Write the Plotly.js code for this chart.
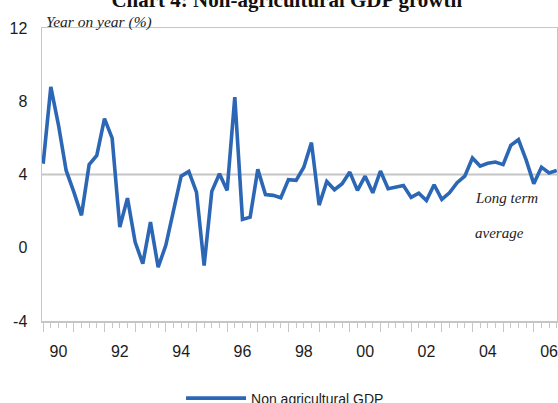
<!DOCTYPE html>
<html>
<head>
<meta charset="utf-8">
<script src="https://cdn.plot.ly/plotly-3.0.1.min.js"></script>
<style>
  html, body { margin: 0; padding: 0; background: #ffffff; }
  #chart { width: 558px; height: 403px; }
</style>
</head>
<body>
<div id="chart"></div>
<script>
// ---- Data (quarterly, year-on-year %, 1990Q1 .. 2006Q4) ----
const startYear = 1990;
const endYear = 2006;
const gdpGrowth = [
  4.59, 8.78, 6.70, 4.22,   // 1990
  3.05, 1.77, 4.54, 5.04,   // 1991
  7.05, 5.99, 1.13, 2.71,   // 1992
  0.31, -0.87, 1.40, -1.06, // 1993
  0.13, 2.00, 3.91, 4.17,   // 1994
  3.04, -0.97, 3.08, 4.04,  // 1995
  3.13, 8.23, 1.55, 1.67,   // 1996
  4.28, 2.90, 2.86, 2.73,   // 1997
  3.72, 3.68, 4.40, 5.74,   // 1998
  2.33, 3.62, 3.17, 3.50,   // 1999
  4.13, 3.13, 3.91, 3.00,   // 2000
  4.19, 3.22, 3.30, 3.40,   // 2001
  2.75, 2.98, 2.58, 3.44,   // 2002
  2.64, 3.00, 3.55, 3.91,   // 2003
  4.90, 4.46, 4.61, 4.68,   // 2004
  4.54, 5.59, 5.90, 4.80,   // 2005
  3.50, 4.40, 4.08, 4.22    // 2006
];
const yearLabels = ['90', '92', '94', '96', '98', '00', '02', '04', '06'];
const yTickVals = [-4, 0, 4, 8, 12];
const yTickText = ['-4', '0', '4', '8', '12'];
const longTermAverage = 4.0;
const seriesName = 'Non agricultural GDP';

// ---- Derived positions (quarter index) ----
const xIdx = gdpGrowth.map((v, i) => i);
const yearStarts = [];
for (let y = startYear; y <= endYear; y++) yearStarts.push((y - startYear) * 4);
const labelPos = yearLabels.map((lab, k) => k * 8 + 2);
const xRange = [-0.15, gdpGrowth.length - 1 + 0.03];

const gray = '#c6c6c6';
const blue = '#2b67b4';
const textCol = '#1c1c1c';

const traces = [
  {
    x: xIdx,
    y: gdpGrowth,
    type: 'scatter',
    mode: 'lines',
    name: seriesName,
    line: { color: blue, width: 3.6 },
    xaxis: 'x',
    yaxis: 'y'
  },
  {
    x: [0],
    y: [null],
    type: 'scatter',
    mode: 'lines',
    showlegend: false,
    hoverinfo: 'skip',
    xaxis: 'x2',
    yaxis: 'y'
  }
];

const layout = {
  width: 558,
  height: 403,
  margin: { l: 42, r: 1, t: 28, b: 82, autoexpand: false },
  paper_bgcolor: '#ffffff',
  plot_bgcolor: '#ffffff',
  font: { family: 'Liberation Sans, Arial, sans-serif', color: textCol, size: 16 },
  title: {
    text: 'Chart 4: Non-agricultural GDP growth',
    font: { family: 'Liberation Serif, serif', size: 21, color: '#111111', weight: 'bold' },
    xref: 'container',
    x: 0.514,
    xanchor: 'center',
    yref: 'container',
    y: 1,
    yanchor: 'middle'
  },
  showlegend: true,
  legend: {
    orientation: 'h',
    xref: 'paper',
    x: 0.27,
    xanchor: 'left',
    yref: 'paper',
    y: -0.21,
    yanchor: 'top',
    itemwidth: 60,
    font: { family: 'Liberation Sans, Arial, sans-serif', size: 14, color: textCol },
    bgcolor: 'rgba(0,0,0,0)'
  },
  xaxis: {
    range: xRange,
    tickmode: 'array',
    tickvals: labelPos,
    ticktext: yearLabels,
    ticks: '',
    ticklabelstandoff: 15,
    ticklabeloverflow: 'allow',
    automargin: false,
    showgrid: false,
    zeroline: false,
    showline: true,
    linecolor: gray,
    linewidth: 1.5,
    mirror: true,
    tickfont: { size: 16, color: textCol }
  },
  xaxis2: {
    overlaying: 'x',
    anchor: 'y',
    side: 'bottom',
    range: xRange,
    tickmode: 'array',
    tickvals: yearStarts,
    ticks: 'outside',
    ticklen: 10,
    tickwidth: 1,
    tickcolor: gray,
    showticklabels: false,
    showgrid: false,
    zeroline: false,
    showline: false,
    minor: {
      tickmode: 'linear',
      tick0: 0,
      dtick: 1,
      ticks: 'outside',
      ticklen: 6,
      tickwidth: 1,
      tickcolor: gray,
      showgrid: false
    }
  },
  yaxis: {
    range: [-4, 12],
    tickmode: 'array',
    tickvals: yTickVals,
    ticktext: yTickText,
    ticks: '',
    ticklabelstandoff: 10,
    automargin: false,
    showgrid: false,
    zeroline: false,
    showline: true,
    linecolor: gray,
    linewidth: 1.5,
    mirror: true,
    tickfont: { size: 16, color: textCol }
  },
  shapes: [
    {
      type: 'line',
      xref: 'paper', x0: 0, x1: 1,
      yref: 'y', y0: longTermAverage, y1: longTermAverage,
      line: { color: gray, width: 2 },
      layer: 'below'
    }
  ],
  annotations: [
    {
      text: 'Year on year (%)',
      xref: 'paper', x: 0, xanchor: 'left', xshift: 2,
      yref: 'paper', y: 1, yanchor: 'middle', yshift: 6,
      showarrow: false,
      font: { family: 'Liberation Serif, serif', size: 15.5, color: '#222222', style: 'italic' }
    },
    {
      text: 'Long term',
      xref: 'paper', x: 0.837, xanchor: 'left',
      yref: 'paper', y: 0.42, yanchor: 'middle',
      showarrow: false,
      font: { family: 'Liberation Serif, serif', size: 15, color: '#222222', style: 'italic' }
    },
    {
      text: 'average',
      xref: 'paper', x: 0.837, xanchor: 'left',
      yref: 'paper', y: 0.30, yanchor: 'middle',
      showarrow: false,
      font: { family: 'Liberation Serif, serif', size: 15, color: '#222222', style: 'italic' }
    }
  ]
};

Plotly.newPlot('chart', traces, layout, { displayModeBar: false, staticPlot: true });
</script>
</body>
</html>
